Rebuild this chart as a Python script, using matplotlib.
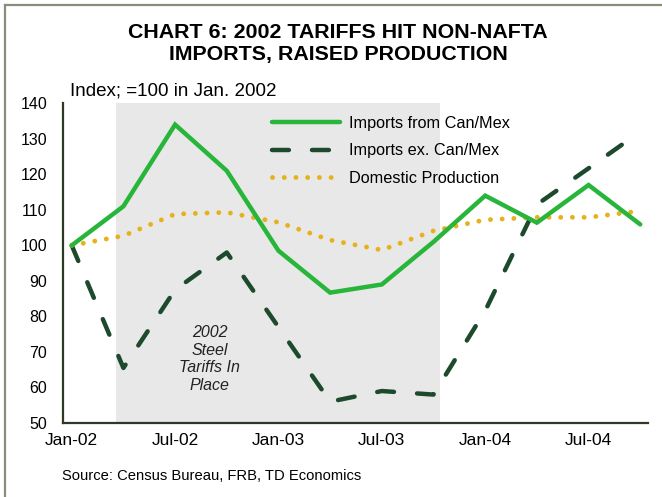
import matplotlib
matplotlib.use("Agg")
import matplotlib.pyplot as plt
from matplotlib.lines import Line2D

plt.rcParams['font.family'] = ['Liberation Sans', 'DejaVu Sans']

# quarterly data, index = 100 in Jan 2002
quarters = ["Jan-02", "Apr-02", "Jul-02", "Oct-02", "Jan-03", "Apr-03",
            "Jul-03", "Oct-03", "Jan-04", "Apr-04", "Jul-04", "Oct-04"]
can_mex = [100, 111, 134, 121, 98.5, 86.7, 89, 101, 114, 106.4, 117, 105.9]
ex_can_mex = [100, 65.5, 87.5, 98, 77, 56, 59, 58, 81.6, 111.5, 121.7, 132]
domestic = [100, 102.7, 108.8, 109.3, 106.5, 101.5, 98.7, 104.1, 107.2, 107.9, 107.9, 109.7]

tariff_start = 0.86   # ~ Mar 2002, in quarter index
tariff_end = 7.12     # ~ Nov 2003

shown_ticks = ["Jan-02", "Jul-02", "Jan-03", "Jul-03", "Jan-04", "Jul-04"]

GREEN = '#27b53a'
DKGREEN = '#1d4a2c'
GOLD = '#e6b21c'
AXCOL = '#2f3a26'

fig = plt.figure(figsize=(6.62, 4.97), dpi=100)
ax = fig.add_axes([63.3 / 662, 1 - 423 / 497, (648 - 63.3) / 662, (423 - 103.3) / 497])

x = list(range(len(quarters)))

ax.axvspan(tariff_start, tariff_end, color='#e8e8e8', lw=0, zorder=0)

ax.plot(x, can_mex, color=GREEN, lw=3.2, solid_capstyle='round',
        solid_joinstyle='miter', label='Imports from Can/Mex', zorder=3)
ax.plot(x, ex_can_mex, color=DKGREEN, lw=3.2, linestyle=(0, (3.8, 5.2)),
        dash_capstyle='round', label='Imports ex. Can/Mex', zorder=2)
ax.plot(x, domestic, color=GOLD, lw=3.5, linestyle=(0, (0.01, 2.4)),
        dash_capstyle='round', label='Domestic Production', zorder=2)

ax.text(2.67, 68.0, "2002\nSteel\nTariffs In\nPlace", ha='center', va='center',
        fontsize=11.5, style='italic', color='#222222', linespacing=1.2)

ax.set_xlim(-0.163, 11.15)
ax.set_ylim(50, 140)
ax.set_yticks(range(50, 141, 10))
ax.set_xticks([quarters.index(q) for q in shown_ticks])
ax.set_xticklabels(shown_ticks)
ax.tick_params(axis='both', length=0, colors='black')
ax.tick_params(axis='x', pad=7.5, labelsize=12.5)
ax.tick_params(axis='y', pad=11.5, labelsize=11.5)

for s in ['top', 'right']:
    ax.spines[s].set_visible(False)
for s in ['left', 'bottom']:
    ax.spines[s].set_color(AXCOL)
    ax.spines[s].set_linewidth(1.6)

ax.legend(loc='upper left', bbox_to_anchor=(272 / 662, 1 - 116 / 497),
          bbox_transform=fig.transFigure, frameon=False, fontsize=11.7,
          handlelength=4.2, handletextpad=0.55, labelspacing=0.76,
          borderpad=0, borderaxespad=0)

fig.text(0.511, 1 - 43.5 / 497, "CHART 6: 2002 TARIFFS HIT NON-NAFTA\nIMPORTS, RAISED PRODUCTION",
         ha='center', va='center', fontsize=15.4, fontweight='bold', linespacing=1.2)
fig.text(70 / 662, 1 - 95 / 497, "Index; =100 in Jan. 2002", ha='left', va='baseline', fontsize=13.5)
fig.text(62 / 662, 1 - 480 / 497, "Source: Census Bureau, FRB, TD Economics",
         ha='left', va='baseline', fontsize=10.6)

# frame lines on left and top edge
fig.add_artist(Line2D([5 / 662, 5 / 662], [0, 1 - 5 / 497], transform=fig.transFigure,
                      color='#8c8c7c', lw=1.6))
fig.add_artist(Line2D([5 / 662, 1], [1 - 5 / 497, 1 - 5 / 497], transform=fig.transFigure,
                      color='#8c8c7c', lw=1.6))

fig.savefig('out.png', dpi=100)
